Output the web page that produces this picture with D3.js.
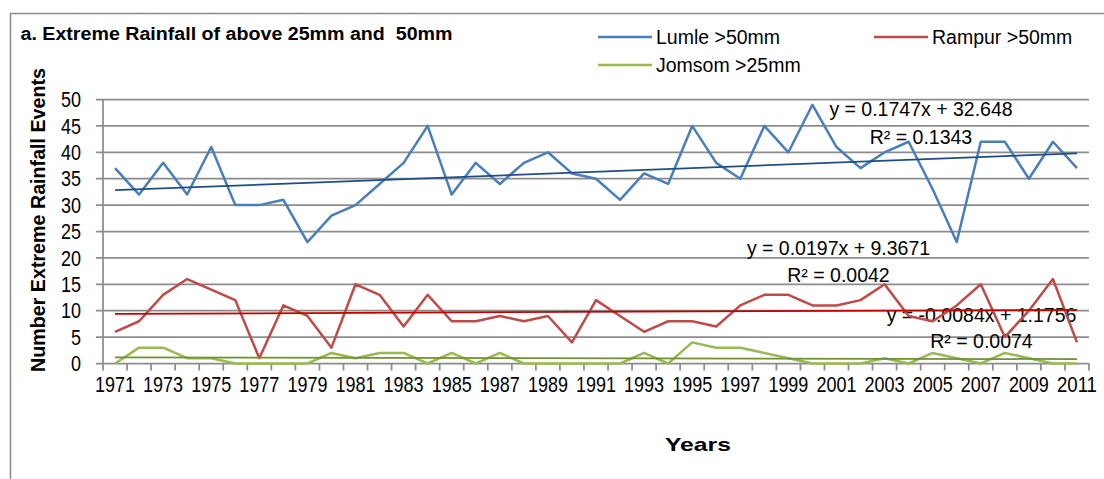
<!DOCTYPE html>
<html>
<head>
<meta charset="utf-8">
<script src="https://cdn.jsdelivr.net/npm/d3@7"></script>
<style>
  body { margin: 0; background: #fff; }
  svg text { font-family: "Liberation Sans", Arial, sans-serif; fill: #000; white-space: pre; }
  .narrow { font-family: "Liberation Sans Narrow", "Arial Narrow", "Liberation Sans", sans-serif; }
</style>
</head>
<body>
<svg id="chart" width="1104" height="479"></svg>
<script>
// Years on the category axis
const years = d3.range(1971, 2012);

// Number of extreme rainfall events per year
const lumle = [37, 32, 38, 32, 41, 30, 30, 31, 23, 28, 30, 34, 38, 45, 32, 38, 34, 38, 40, 36,
  35, 31, 36, 34, 45, 38, 35, 45, 40, 49, 41, 37, 40, 42, 33, 23, 42, 42, 35, 42, 37];
const rampur = [6, 8, 13, 16, 14, 12, 1, 11, 9, 3, 15, 13, 7, 13, 8, 8, 9, 8, 9, 4,
  12, 9, 6, 8, 8, 7, 11, 13, 13, 11, 11, 12, 15, 9, 8, 11, 15, 5, 10, 16, 4];
const jomsom = [0, 3, 3, 1, 1, 0, 0, 0, 0, 2, 1, 2, 2, 0, 2, 0, 2, 0, 0, 0,
  0, 0, 2, 0, 4, 3, 3, 2, 1, 0, 0, 0, 1, 0, 2, 1, 0, 2, 1, 0, 0];

// Linear trend equations as printed on the chart (x = 1 for 1971)
const trendSlopes = [0.1747, 0.0197, -0.0084];
const trendIntercepts = [32.648, 9.3671, 1.1756];
const trendR2 = ["0.1343", "0.0042", "0.0074"];

const yTicks = [0, 5, 10, 15, 20, 25, 30, 35, 40, 45, 50];
const xTickLabels = years.filter(y => (y - 1971) % 2 === 0);

const seriesNames = ["Lumle >50mm", "Rampur >50mm", "Jomsom >25mm"];
const seriesValues = [lumle, rampur, jomsom];
const lineColors = ["#4a7ebb", "#be4b48", "#98b954"];
const trendColors = ["#1f4e85", "#c00000", "#6f9131"];

const svg = d3.select("#chart");

const plot = { left: 103, right: 1089, top: 99.5, bottom: 363.5 };

const x = d3.scaleBand()
  .domain(years)
  .range([plot.left, plot.right])
  .padding(0);
const cx = yr => x(yr) + x.bandwidth() / 2;

const y = d3.scaleLinear()
  .domain([0, 50])
  .range([plot.bottom, plot.top]);

// Outer frame (only top and left visible)
svg.append("path")
  .attr("d", "M1104,13.5H10.5V479")
  .attr("fill", "none")
  .attr("stroke", "#8a8a8a")
  .attr("stroke-width", 1.5);

// Title
svg.append("text")
  .attr("x", 20.5)
  .attr("y", 39.5)
  .attr("font-size", 18)
  .attr("font-weight", "bold")
  .attr("textLength", 432)
  .attr("lengthAdjust", "spacingAndGlyphs")
  .text("a. Extreme Rainfall of above 25mm and  50mm");

// Horizontal grid lines with the left tick stubs
svg.append("g")
  .selectAll("line")
  .data(yTicks)
  .join("line")
  .attr("x1", plot.left - 7)
  .attr("x2", plot.right)
  .attr("y1", d => y(d))
  .attr("y2", d => y(d))
  .attr("stroke", "#8c8c8c")
  .attr("stroke-width", 1.75);

// Y axis line
svg.append("line")
  .attr("x1", plot.left).attr("x2", plot.left)
  .attr("y1", plot.top).attr("y2", plot.bottom)
  .attr("stroke", "#8c8c8c")
  .attr("stroke-width", 1.75);

// Y tick labels
svg.append("g")
  .selectAll("text")
  .data(yTicks)
  .join("text")
  .attr("class", "narrow")
  .attr("x", plot.left - 22)
  .attr("y", d => y(d))
  .attr("dy", "0.35em")
  .attr("text-anchor", "end")
  .attr("font-size", 22)
  .attr("textLength", d => String(d).length * 10)
  .attr("lengthAdjust", "spacingAndGlyphs")
  .text(d => d);

// X tick marks at category boundaries
const tickXs = years.map(yr => x(yr)).concat([plot.right]);
svg.append("g")
  .selectAll("line")
  .data(tickXs)
  .join("line")
  .attr("x1", d => d).attr("x2", d => d)
  .attr("y1", plot.bottom).attr("y2", plot.bottom + 7)
  .attr("stroke", "#8c8c8c")
  .attr("stroke-width", 1.75);

// X tick labels (every second year)
svg.append("g")
  .selectAll("text")
  .data(xTickLabels)
  .join("text")
  .attr("class", "narrow")
  .attr("x", d => cx(d))
  .attr("y", plot.bottom + 28)
  .attr("text-anchor", "middle")
  .attr("font-size", 22)
  .attr("textLength", 40)
  .attr("lengthAdjust", "spacingAndGlyphs")
  .text(d => d);

// Axis titles
svg.append("text")
  .attr("transform", "translate(45,220) rotate(-90)")
  .attr("text-anchor", "middle")
  .attr("font-size", 20)
  .attr("font-weight", "bold")
  .attr("textLength", 304)
  .attr("lengthAdjust", "spacingAndGlyphs")
  .text("Number Extreme Rainfall Events");

svg.append("text")
  .attr("x", 698)
  .attr("y", 451)
  .attr("text-anchor", "middle")
  .attr("font-size", 19)
  .attr("font-weight", "bold")
  .attr("textLength", 66)
  .attr("lengthAdjust", "spacingAndGlyphs")
  .text("Years");

// Trendline equation labels
const eqLabels = [
  { cx: 921, y1: 116, y2: 144 },
  { cx: 838.5, y1: 255, y2: 282 },
  { cx: 981.5, y1: 322, y2: 348 }
];
eqLabels.forEach((p, i) => {
  const b = trendIntercepts[i];
  const m = trendSlopes[i];
  svg.append("text")
    .attr("x", p.cx).attr("y", p.y1)
    .attr("text-anchor", "middle")
    .attr("font-size", 19.5)
    .text(`y = ${m}x + ${b}`);
  svg.append("text")
    .attr("x", p.cx).attr("y", p.y2)
    .attr("text-anchor", "middle")
    .attr("font-size", 19.5)
    .text(`R² = ${trendR2[i]}`);
});

// Data lines
const line = d3.line()
  .x((d, i) => cx(years[i]))
  .y(d => y(d));

seriesValues.forEach((vals, i) => {
  svg.append("path")
    .datum(vals)
    .attr("fill", "none")
    .attr("stroke", lineColors[i])
    .attr("stroke-width", 2.5)
    .attr("stroke-linejoin", "round")
    .attr("d", line);
});

// Trend lines
seriesValues.forEach((vals, i) => {
  const ends = [1, years.length].map(k => ({
    yr: years[k - 1],
    v: trendSlopes[i] * k + trendIntercepts[i]
  }));
  svg.append("line")
    .attr("x1", cx(ends[0].yr)).attr("y1", y(ends[0].v))
    .attr("x2", cx(ends[1].yr)).attr("y2", y(ends[1].v))
    .attr("stroke", trendColors[i])
    .attr("stroke-width", 1.75);
});

// Legend
const legendItems = [
  { x: 598, y: 37 },
  { x: 874, y: 37 },
  { x: 598, y: 65 }
];
legendItems.forEach((p, i) => {
  svg.append("line")
    .attr("x1", p.x).attr("x2", p.x + 54)
    .attr("y1", p.y).attr("y2", p.y)
    .attr("stroke", lineColors[i])
    .attr("stroke-width", 2.5);
  svg.append("text")
    .attr("x", p.x + 58)
    .attr("y", p.y)
    .attr("dy", "0.35em")
    .attr("font-size", 19.5)
    .text(seriesNames[i]);
});
</script>
</body>
</html>
